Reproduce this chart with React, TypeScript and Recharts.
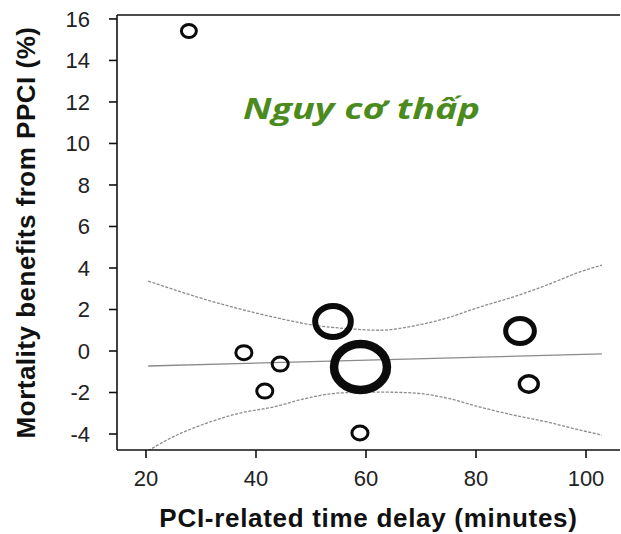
import React from "react";
import {
  ComposedChart,
  XAxis,
  YAxis,
  Line,
  Scatter,
  ReferenceLine,
  Label,
} from "recharts";

// Study points: PCI-related delay (min) vs mortality benefit (%)
const delays = [27.8, 37.8, 44.4, 41.6, 54.0, 59.0, 58.9, 88.0, 89.6];
const benefits = [15.42, -0.08, -0.63, -1.93, 1.42, -0.77, -3.95, 0.96, -1.59];
const weights = [6.5, 7, 7, 7, 15.5, 23, 7, 12.5, 8.2];
const rings = [3, 3, 3, 3, 6, 8.5, 3, 5, 3.5];

// Meta-regression fit
const fitX = [20.4, 102.9];
const fitY = [-0.72, -0.14];

// Confidence band
const upperX = [20.4, 31.1, 43.1, 50.4, 57.6, 62.5, 68.5, 74.7, 80.7, 86.7, 92.9, 98.9, 102.9];
const upperY = [3.37, 2.46, 1.64, 1.25, 1.06, 1.0, 1.2, 1.59, 2.12, 2.6, 3.18, 3.81, 4.14];
const lowerX = [20.4, 24.9, 31.1, 37.1, 43.1, 49.3, 55.3, 62.5, 68.5, 74.7, 80.7, 86.7, 92.9, 98.9, 102.9];
const lowerY = [-4.8, -4.14, -3.47, -2.99, -2.7, -2.27, -2.02, -1.98, -2.02, -2.27, -2.7, -3.08, -3.42, -3.81, -4.05];

const xTicks = [20, 40, 60, 80, 100];
const yTicks = [-4, -2, 0, 2, 4, 6, 8, 10, 12, 14, 16];

const xLabel = "PCI-related time delay (minutes)";
const yLabel = "Mortality benefits from PPCI (%)";
const note = "Nguy cơ thấp";

const X_DOMAIN: [number, number] = [14.73, 106.18];
const Y_DOMAIN: [number, number] = [-4.77, 16.19];

const points = delays.map((d, i) => ({ x: d, y: benefits[i], r: weights[i], w: rings[i] }));
const fitData = fitX.map((x, i) => ({ x, y: fitY[i] }));
const upperData = upperX.map((x, i) => ({ x, y: upperY[i] }));
const lowerData = lowerX.map((x, i) => ({ x, y: lowerY[i] }));

const FONT = "'Liberation Sans', Arial, Helvetica, sans-serif";

const RingShape = (props: any) => {
  const { cx, cy, payload } = props;
  if (cx == null || cy == null) return null;
  return (
    <ellipse
      cx={cx}
      cy={cy}
      rx={payload.r * 1.15}
      ry={payload.r}
      fill="none"
      stroke="#0b0b0b"
      strokeWidth={payload.w}
    />
  );
};

const XTitle = (props: any) => {
  const vb = props.viewBox || {};
  const cx = vb.x + vb.width / 2;
  return (
    <text
      x={cx}
      y={527}
      textAnchor="middle"
      fontFamily={FONT}
      fontWeight="bold"
      fontSize={26}
      letterSpacing={0.7}
      fill="#111"
    >
      {xLabel}
    </text>
  );
};

const YTitle = (props: any) => {
  const vb = props.viewBox || {};
  const cy = vb.y + vb.height / 2;
  const bx = 35;
  return (
    <text
      x={bx}
      y={cy}
      transform={`rotate(-90 ${bx} ${cy})`}
      textAnchor="middle"
      fontFamily={FONT}
      fontWeight="bold"
      fontSize={26}
      letterSpacing={0.5}
      fill="#111"
    >
      {yLabel}
    </text>
  );
};

export default function App() {
  return (
    <div style={{ position: "absolute", left: 0, top: 0, width: 621, height: 534, background: "#fff" }}>
      <ComposedChart
        width={621}
        height={534}
        margin={{ top: 15, right: 1, bottom: 0, left: 0 }}
        style={{ position: "absolute", left: 0, top: 0 }}
      >
        <XAxis
          type="number"
          dataKey="x"
          domain={X_DOMAIN}
          ticks={xTicks}
          allowDataOverflow
          height={84}
          tickSize={8}
          tickMargin={12}
          axisLine={{ stroke: "#111", strokeWidth: 1.6 }}
          tickLine={{ stroke: "#111", strokeWidth: 1.6 }}
          tick={{ fill: "#222", fontSize: 22, fontFamily: FONT }}
        >
          <Label content={<XTitle />} />
        </XAxis>
        <YAxis
          type="number"
          domain={Y_DOMAIN}
          ticks={yTicks}
          allowDataOverflow
          width={117}
          tickSize={8}
          tickMargin={19}
          axisLine={{ stroke: "#111", strokeWidth: 1.6 }}
          tickLine={{ stroke: "#111", strokeWidth: 1.6 }}
          tick={{ fill: "#222", fontSize: 22, fontFamily: FONT }}
        >
          <Label content={<YTitle />} />
        </YAxis>
        <ReferenceLine y={Y_DOMAIN[1]} stroke="#111" strokeWidth={1.6} />
        <Line
          data={upperData}
          dataKey="y"
          type="monotone"
          stroke="#8c8c8c"
          strokeWidth={1.3}
          strokeDasharray="3 1.5"
          dot={false}
          activeDot={false}
          isAnimationActive={false}
        />
        <Line
          data={lowerData}
          dataKey="y"
          type="monotone"
          stroke="#8c8c8c"
          strokeWidth={1.3}
          strokeDasharray="3 1.5"
          dot={false}
          activeDot={false}
          isAnimationActive={false}
        />
        <Line
          data={fitData}
          dataKey="y"
          type="linear"
          stroke="#8a8a8a"
          strokeWidth={1.4}
          dot={false}
          activeDot={false}
          isAnimationActive={false}
        />
        <Scatter data={points} dataKey="y" shape={<RingShape />} isAnimationActive={false} />
      </ComposedChart>
      <svg
        width={621}
        height={534}
        style={{ position: "absolute", left: 0, top: 0, pointerEvents: "none" }}
      >
        <text
          x={243}
          y={119}
          textLength={237}
          lengthAdjust="spacingAndGlyphs"
          fontFamily="'Open Sans', 'Noto Sans', sans-serif"
          fontStyle="italic"
          fontWeight={700}
          fontSize={29}
          fill="#4b8b1e"
        >
          {note}
        </text>
      </svg>
    </div>
  );
}
